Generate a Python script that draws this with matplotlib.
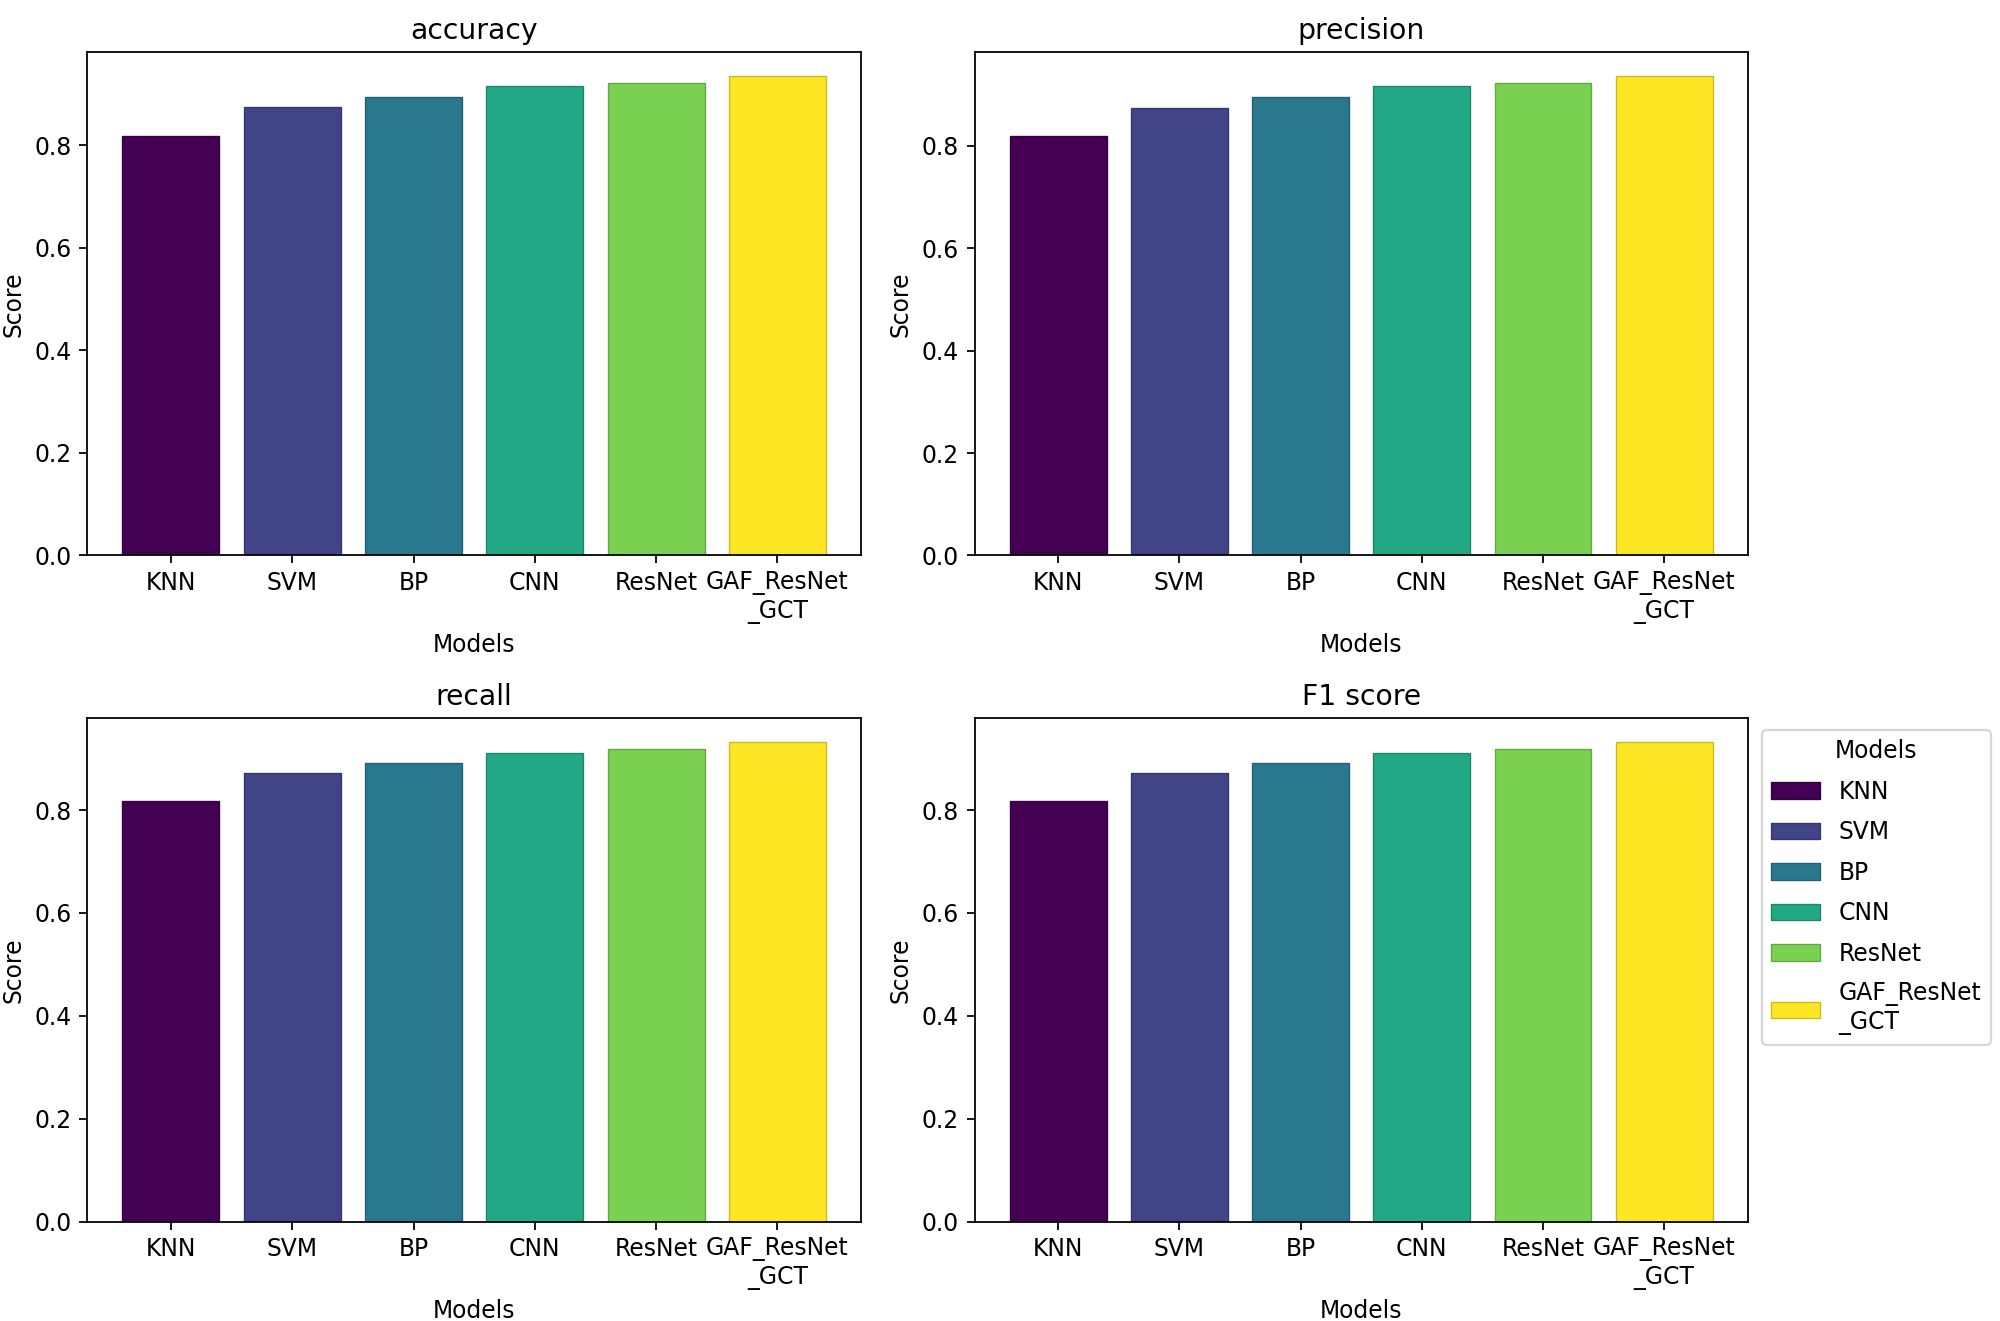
import numpy as np
import matplotlib
matplotlib.use('Agg')
import matplotlib.pyplot as plt
from matplotlib.colors import to_rgb

#----- data ---------
models = ['KNN', 'SVM', 'BP', 'CNN', 'ResNet', 'GAF_ResNet\n_GCT']
metric_names = ['accuracy', 'precision', 'recall', 'F1 score']
accuracy = [0.818, 0.874, 0.894, 0.915, 0.921, 0.935]
precision = [0.819, 0.873, 0.895, 0.916, 0.922, 0.936]
recall = [0.817, 0.872, 0.892, 0.911, 0.918, 0.932]
f1 = [0.817, 0.872, 0.892, 0.911, 0.918, 0.932]

scores = [accuracy, precision, recall, f1]
colors = plt.cm.viridis(np.linspace(0, 1, len(models)))
edges = [tuple(np.array(to_rgb(c)) * 0.8) for c in colors]

plt.rcParams['font.size'] = 10.6

fig = plt.figure(figsize=(12.5, 8.25625), dpi=160)

# posisi axes (kiri, bawah, lebar, tinggi)
pos = [[0.0436, 0.5795, 0.387, 0.381],
       [0.4873, 0.5795, 0.3866, 0.381],
       [0.0436, 0.0753, 0.387, 0.381],
       [0.4873, 0.0753, 0.3866, 0.381]]

x = np.arange(len(models))
for i in range(4):
    ax = fig.add_axes(pos[i])
    bars = ax.bar(x, scores[i], width=0.8, color=colors, edgecolor=edges, linewidth=0.6)
    ax.set_xticks(x)
    ax.set_xticklabels(models)
    ax.set_title(metric_names[i])
    ax.set_xlabel('Models')
    ax.set_ylabel('Score')
    if i == 3:
        ax.legend(bars, models, title='Models', loc='upper left',
                  bbox_to_anchor=(1.003, 1), labelspacing=0.7, handlelength=2.05)

fig.savefig('out.png', dpi=160)
